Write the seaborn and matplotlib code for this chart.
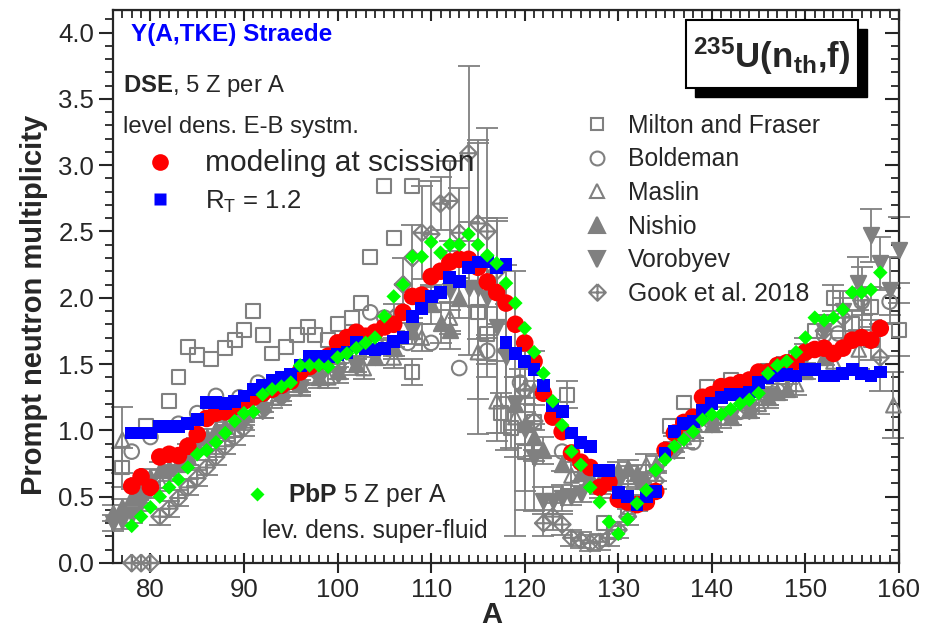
import numpy as np
import pandas as pd
import matplotlib
matplotlib.use("Agg")
import matplotlib.pyplot as plt
import seaborn as sns
from matplotlib.lines import Line2D
from matplotlib.patches import Rectangle
from matplotlib.path import Path
from matplotlib.ticker import MultipleLocator, FormatStrFormatter

# ---------------- data ----------------
red_A = [78, 79, 80, 81, 82, 83, 84, 85, 86, 87, 88, 89, 90, 91, 92, 93, 94, 95, 96, 97, 98, 99,
         100, 101, 102, 103, 104, 105, 106, 107, 108, 109, 110, 111, 112, 113, 114, 115, 116, 117,
         118, 119, 120, 121, 122, 123, 124, 125, 126, 127, 128, 129, 130, 131, 132, 133, 134, 135,
         136, 137, 138, 139, 140, 141, 142, 143, 144, 145, 146, 147, 148, 149, 150, 151, 152, 153,
         154, 155, 156, 157, 158]
red_nu = [0.58, 0.65, 0.57, 0.80, 0.82, 0.81, 0.88, 0.97, 1.09, 1.13, 1.14, 1.18, 1.22, 1.25, 1.28,
          1.31, 1.34, 1.37, 1.44, 1.48, 1.52, 1.56, 1.66, 1.70, 1.74, 1.71, 1.74, 1.78, 1.80, 1.89,
          2.01, 2.02, 2.16, 2.20, 2.27, 2.29, 2.29, 2.23, 2.12, 2.04, 1.96, 1.80, 1.66, 1.52, 1.28,
          1.10, 0.99, 0.83, 0.76, 0.72, 0.57, 0.61, 0.48, 0.46, 0.44, 0.46, 0.54, 0.85, 0.98, 1.06,
          1.10, 1.25, 1.27, 1.33, 1.34, 1.36, 1.38, 1.44, 1.44, 1.49, 1.51, 1.52, 1.59, 1.61, 1.62,
          1.58, 1.62, 1.68, 1.70, 1.68, 1.77]

blue_A = [78, 79, 80, 81, 82, 83, 84, 85, 86, 87, 88, 89, 90, 91, 92, 93, 94, 95, 96, 97, 98, 99,
          100, 101, 102, 103, 104, 105, 106, 107, 108, 109, 110, 111, 112, 113, 114, 115, 116, 117,
          118, 118, 119, 120, 121, 122, 123, 124, 125, 126, 127, 128, 129, 130, 131, 132, 133, 134,
          135, 136, 137, 138, 139, 140, 141, 142, 143, 144, 145, 146, 147, 148, 149, 150, 151, 152,
          153, 154, 155, 156, 157, 158]
blue_nu = [0.98, 0.98, 0.98, 1.03, 1.03, 1.03, 1.05, 1.08, 1.21, 1.21, 1.20, 1.22, 1.26, 1.31, 1.34,
           1.38, 1.40, 1.42, 1.49, 1.56, 1.56, 1.56, 1.57, 1.59, 1.66, 1.62, 1.61, 1.62, 1.67, 1.70,
           1.86, 1.92, 2.01, 2.04, 2.15, 2.12, 2.23, 2.27, 2.27, 2.23, 2.25, 1.66, 1.58, 1.52, 1.46,
           1.34, 1.19, 1.14, 0.98, 0.91, 0.88, 0.70, 0.70, 0.53, 0.50, 0.44, 0.50, 0.54, 0.83, 0.99,
           1.05, 1.07, 1.15, 1.20, 1.25, 1.27, 1.27, 1.29, 1.36, 1.40, 1.41, 1.42, 1.41, 1.46, 1.46,
           1.41, 1.41, 1.43, 1.46, 1.43, 1.41, 1.44]

green_A = [78, 79, 80, 81, 82, 83, 84, 85, 86, 87, 88, 89, 90, 91, 92, 93, 94, 95, 96, 97, 98, 99,
           100, 101, 102, 103, 104, 105, 106, 107, 108, 109, 110, 111, 112, 113, 114, 115, 116, 117,
           118, 119, 120, 121, 122, 123, 124, 125, 126, 127, 128, 129, 130, 131, 132, 133, 134, 135,
           136, 137, 138, 139, 140, 141, 142, 143, 144, 145, 146, 147, 148, 149, 150, 151, 152, 153,
           154, 155, 156, 157, 158]
green_nu = [0.28, 0.35, 0.42, 0.50, 0.57, 0.63, 0.72, 0.82, 0.85, 0.91, 0.98, 1.07, 1.13, 1.14, 1.27,
            1.31, 1.33, 1.36, 1.49, 1.49, 1.49, 1.48, 1.55, 1.58, 1.62, 1.66, 1.70, 1.86, 2.01, 2.10,
            2.31, 2.31, 2.42, 2.34, 2.40, 2.40, 2.48, 2.40, 2.32, 2.26, 2.11, 1.96, 1.77, 1.59, 1.43,
            1.22, 1.04, 0.84, 0.74, 0.57, 0.46, 0.31, 0.22, 0.33, 0.45, 0.55, 0.70, 0.78, 0.88, 0.93,
            0.99, 1.08, 1.12, 1.12, 1.16, 1.20, 1.23, 1.28, 1.43, 1.49, 1.52, 1.59, 1.70, 1.85, 1.83,
            1.85, 1.91, 2.04, 2.04, 2.06, 2.19]

milton_A = [77, 79.5, 82, 83, 84, 85, 86.5, 88, 89, 90, 91, 92, 93, 94.5, 95.7, 96.8, 97.6, 99, 100,
            101.5, 102.5, 103.5, 105, 106, 108, 108, 115, 116, 117.5, 118.5, 120, 121, 124.5, 125,
            128.5, 129.5, 131, 135.5, 137, 139.5, 142, 146, 149, 151, 153, 155, 157, 157, 160]
milton_nu = [0.72, 1.03, 1.22, 1.40, 1.63, 1.57, 1.54, 1.62, 1.68, 1.76, 1.90, 1.72, 1.58, 1.63, 1.72,
             1.78, 1.72, 1.68, 1.80, 1.85, 1.96, 2.31, 2.84, 2.45, 2.84, 1.44, 1.89, 1.73, 1.13, 1.02,
             0.84, 1.06, 1.27, 0.74, 0.30, 0.23, 0.42, 1.03, 1.21, 1.33, 1.38, 1.45, 1.55, 1.75, 2.00,
             1.80, 1.93, 1.68, 1.76]
milton_err = [0.15, 0.00, 0.00, 0.00, 0.00, 0.00, 0.00, 0.00, 0.00, 0.00, 0.00, 0.00, 0.00, 0.00, 0.00,
              0.00, 0.00, 0.00, 0.00, 0.00, 0.00, 0.00, 0.00, 0.00, 0.00, 0.10, 0.20, 0.20, 0.15, 0.15,
              0.30, 0.25, 0.10, 0.00, 0.00, 0.00, 0.00, 0.00, 0.00, 0.00, 0.00, 0.00, 0.00, 0.00, 0.10,
              0.10, 0.15, 0.15, 0.20]

bold_A = [78, 80, 83, 85, 87, 89.5, 91.5, 94, 96, 98, 100, 102, 103.5, 105, 107.5, 110, 113, 116,
          119.5, 124, 127, 138, 143, 147, 152, 153.5, 156, 159]
bold_nu = [0.84, 0.95, 1.05, 1.13, 1.26, 1.25, 1.36, 1.27, 1.45, 1.50, 1.60, 1.72, 1.89, 1.85, 1.66,
           1.66, 1.47, 1.60, 1.36, 0.84, 0.70, 0.91, 1.14, 1.30, 1.72, 1.73, 1.97, 1.97]
bold_err = [0.00, 0.00, 0.00, 0.00, 0.00, 0.00, 0.00, 0.00, 0.00, 0.00, 0.00, 0.00, 0.00, 0.00, 0.00,
            0.00, 0.00, 0.10, 0.10, 0.00, 0.00, 0.00, 0.00, 0.00, 0.00, 0.00, 0.10, 0.10]

maslin_A = [77, 79, 81, 84, 87, 90, 93, 96, 99, 102.8, 106, 109, 112, 115, 117, 119, 121, 125, 128,
            131, 133, 137, 141, 145, 149, 153, 155.7, 159.4]
maslin_nu = [0.93, 0.53, 0.62, 0.82, 1.00, 1.12, 1.25, 1.35, 1.40, 1.47, 1.55, 1.70, 1.85, 1.59, 1.22,
             1.10, 1.30, 0.66, 0.60, 0.65, 0.74, 0.95, 1.10, 1.20, 1.35, 1.52, 1.61, 1.19]
maslin_err = [0.25, 0.08, 0.08, 0.08, 0.08, 0.08, 0.08, 0.08, 0.08, 0.08, 0.08, 0.10, 0.12, 0.35, 0.30,
              0.30, 0.30, 0.10, 0.08, 0.08, 0.08, 0.08, 0.08, 0.08, 0.08, 0.10, 0.15, 0.25]

nishio_A = [76, 77, 78, 79, 80, 81, 82, 83, 84, 85, 86, 87, 88, 89, 90, 92, 94, 96, 98, 100, 102, 104,
            106, 108, 110, 111, 112, 113, 119, 120, 121, 122, 124, 126, 127, 128, 129, 130, 131, 132,
            133, 134, 136, 138, 140, 142, 144, 146, 147, 148, 150, 152]
nishio_nu = [0.38, 0.42, 0.50, 0.58, 0.65, 0.70, 0.72, 0.75, 0.80, 0.88, 0.95, 1.00, 1.03, 1.08, 1.12,
             1.20, 1.28, 1.35, 1.40, 1.45, 1.50, 1.55, 1.62, 1.75, 1.95, 1.81, 1.76, 2.00, 1.20, 1.05,
             0.95, 0.85, 0.75, 0.68, 0.65, 0.62, 0.65, 0.70, 0.72, 0.68, 0.62, 0.75, 0.90, 1.00, 1.05,
             1.10, 1.15, 1.25, 1.29, 1.31, 1.45, 1.55]
nishio_err = [0.06, 0.06, 0.06, 0.06, 0.06, 0.06, 0.06, 0.06, 0.06, 0.06, 0.06, 0.06, 0.06, 0.06, 0.06,
              0.06, 0.06, 0.06, 0.06, 0.06, 0.06, 0.06, 0.08, 0.10, 0.15, 0.15, 0.15, 0.15, 0.20, 0.15,
              0.10, 0.10, 0.06, 0.06, 0.06, 0.06, 0.06, 0.06, 0.06, 0.06, 0.06, 0.06, 0.06, 0.06, 0.06,
              0.06, 0.06, 0.06, 0.06, 0.06, 0.06, 0.06]

voro_A = [76, 77, 78, 79, 80, 82, 84, 86, 88, 90, 92, 94, 96, 98, 100, 102, 104, 106, 108, 110, 112,
          114, 115, 116, 117, 118, 119, 120, 121, 122, 123, 124, 125, 126, 128, 130, 132, 134, 136,
          138, 140, 142, 144, 146, 148, 150, 152, 154, 155.6, 157, 158, 159, 160]
voro_nu = [0.30, 0.32, 0.36, 0.45, 0.55, 0.68, 0.78, 0.88, 0.98, 1.06, 1.15, 1.25, 1.32, 1.38, 1.42,
           1.48, 1.55, 1.62, 1.75, 1.95, 2.05, 2.07, 2.07, 2.00, 1.78, 1.55, 1.20, 1.00, 0.79, 0.47,
           0.47, 0.49, 0.50, 0.52, 0.55, 0.60, 0.62, 0.68, 0.85, 0.98, 1.05, 1.10, 1.15, 1.25, 1.40,
           1.55, 1.75, 1.90, 2.11, 2.47, 2.26, 2.06, 2.36]
voro_err = [0.06, 0.06, 0.06, 0.06, 0.06, 0.06, 0.06, 0.06, 0.06, 0.06, 0.06, 0.06, 0.06, 0.06, 0.06,
            0.06, 0.06, 0.06, 0.06, 0.06, 0.30, 0.50, 1.10, 0.60, 0.80, 0.70, 1.00, 0.60, 0.40, 0.10,
            0.10, 0.10, 0.06, 0.06, 0.06, 0.06, 0.06, 0.06, 0.06, 0.06, 0.06, 0.06, 0.06, 0.06, 0.10,
            0.10, 0.12, 0.15, 0.20, 0.20, 0.20, 0.25, 0.25]

gook_A = [78, 79, 80, 81, 82, 83, 84, 85, 86, 87, 88, 89, 90, 92, 94, 96, 98, 100, 102, 104, 106,
          107, 108, 109, 110, 111, 112, 113, 114, 115, 116, 117, 118, 120, 121, 122, 123, 124, 125,
          126, 127, 128, 129, 130, 131, 132, 134, 136, 138, 140, 142, 144, 146, 148, 150, 152, 154,
          156, 158]
gook_nu = [0.00, 0.00, 0.00, 0.35, 0.41, 0.49, 0.57, 0.64, 0.72, 0.80, 0.88, 0.95, 1.02, 1.15, 1.25,
           1.35, 1.42, 1.50, 1.60, 1.68, 1.85, 2.10, 2.30, 2.49, 2.48, 2.71, 2.73, 2.49, 3.09, 2.56,
           2.50, 2.20, 1.60, 1.30, 1.07, 0.30, 0.35, 0.29, 0.19, 0.17, 0.15, 0.16, 0.19, 0.25, 0.35,
           0.45, 0.62, 0.85, 1.00, 1.05, 1.10, 1.15, 1.25, 1.45, 1.60, 1.75, 1.85, 1.98, 1.55]
gook_err = [0.00, 0.00, 0.00, 0.06, 0.06, 0.06, 0.06, 0.06, 0.06, 0.06, 0.06, 0.06, 0.06, 0.06, 0.06,
            0.06, 0.06, 0.06, 0.06, 0.06, 0.10, 0.20, 0.25, 0.35, 0.40, 0.20, 0.30, 0.34, 0.66, 0.63,
            0.78, 0.40, 0.35, 0.30, 0.30, 0.10, 0.10, 0.08, 0.06, 0.06, 0.06, 0.06, 0.06, 0.06, 0.06,
            0.06, 0.06, 0.06, 0.06, 0.06, 0.06, 0.06, 0.08, 0.10, 0.10, 0.12, 0.15, 0.25, 0.25]

x_ticks = [80, 90, 100, 110, 120, 130, 140, 150, 160]
y_ticks = [0.0, 0.5, 1.0, 1.5, 2.0, 2.5, 3.0, 3.5, 4.0]

# ---------------- style ----------------
sns.set_style("ticks")
plt.rcParams["font.family"] = ["Liberation Sans", "DejaVu Sans"]
plt.rcParams["mathtext.fontset"] = "custom"
plt.rcParams["mathtext.rm"] = "Liberation Sans"
plt.rcParams["mathtext.bf"] = "Liberation Sans:bold"
plt.rcParams["mathtext.it"] = "Liberation Sans:italic"

GREY = "#808080"
RED = "#ff0000"
BLUE = "#0000ff"
GREEN = "#00ff00"

gook_marker = Path([(0, 1), (1, 0), (0, -1), (-1, 0), (0, 1), (0, 1), (0, -1), (-1, 0), (1, 0)],
                   [Path.MOVETO, Path.LINETO, Path.LINETO, Path.LINETO, Path.LINETO,
                    Path.MOVETO, Path.LINETO, Path.MOVETO, Path.LINETO])

fig = plt.figure(figsize=(9.42, 6.28), dpi=100)
ax = fig.add_axes([113 / 942, 65 / 628, 786 / 942, 553 / 628])


def grey_series(A, nu, err, marker, filled, size):
    A = np.asarray(A, float)
    nu = np.asarray(nu, float)
    err = np.asarray(err, float)
    has_err = err > 0
    ax.errorbar(A[has_err], nu[has_err], yerr=err[has_err], fmt="none", ecolor=GREY,
                elinewidth=1.3, capsize=8, capthick=1.3, zorder=2, clip_on=False)
    df = pd.DataFrame({"A": A, "nu": nu})
    sns.scatterplot(data=df, x="A", y="nu", ax=ax, marker=marker, s=size,
                    color=GREY if filled else "none", edgecolor=GREY, linewidth=1.5,
                    zorder=3, legend=False, clip_on=False)


grey_series(milton_A, milton_nu, milton_err, "s", False, 100)
grey_series(bold_A, bold_nu, bold_err, "o", False, 110)
grey_series(maslin_A, maslin_nu, maslin_err, "^", False, 110)
grey_series(nishio_A, nishio_nu, nishio_err, "^", True, 120)
grey_series(voro_A, voro_nu, voro_err, "v", True, 120)
grey_series(gook_A, gook_nu, gook_err, gook_marker, False, 150)

sns.scatterplot(x=red_A, y=red_nu, ax=ax, marker="o", s=160, color=RED, edgecolor="none",
                zorder=4, legend=False)
sns.scatterplot(x=blue_A, y=blue_nu, ax=ax, marker="s", s=85, color=BLUE, edgecolor="none",
                zorder=5, legend=False)
sns.scatterplot(x=green_A, y=green_nu, ax=ax, marker="D", s=55, color=GREEN, edgecolor="none",
                zorder=6, legend=False)

# ---------------- axes ----------------
ax.set_xlim(76, 160)
ax.set_ylim(0, 4.17)
ax.set_xticks(x_ticks)
ax.set_yticks(y_ticks)
ax.xaxis.set_minor_locator(MultipleLocator(1))
ax.yaxis.set_minor_locator(MultipleLocator(0.1))
ax.yaxis.set_major_formatter(FormatStrFormatter("%.1f"))
ax.tick_params(axis="x", which="major", direction="inout", length=14, width=1.5, labelsize=18.5,
               pad=4, top=False)
ax.tick_params(axis="x", which="minor", direction="in", length=6, width=1.3, top=False)
ax.tick_params(axis="y", which="major", direction="out", length=10, width=1.5, labelsize=18.5,
               right=False)
ax.tick_params(axis="y", which="minor", direction="out", length=6, width=1.3, right=False)
for sp in ax.spines.values():
    sp.set_linewidth(1.6)
    sp.set_visible(True)

secx = ax.secondary_xaxis("top")
secx.set_xticks(x_ticks)
secx.xaxis.set_minor_locator(MultipleLocator(1))
secx.tick_params(axis="x", which="major", direction="in", length=8, width=1.5,
                 labeltop=False, labelbottom=False)
secx.tick_params(axis="x", which="minor", direction="in", length=6, width=1.3)
secy = ax.secondary_yaxis("right")
secy.set_yticks(y_ticks)
secy.yaxis.set_minor_locator(MultipleLocator(0.1))
secy.tick_params(axis="y", which="major", direction="in", length=10, width=1.5,
                 labelright=False, labelleft=False)
secy.tick_params(axis="y", which="minor", direction="in", length=6, width=1.3)

ax.set_xlabel("A", fontsize=21, fontweight="bold")
ax.set_ylabel("Prompt neutron multiplicity", fontsize=21, fontweight="bold")
ax.xaxis.set_label_coords(0.482, -0.068)
ax.yaxis.set_label_coords(-0.083, 0.4665)

# ---------------- annotations / legends ----------------
ax.text(0.023, 0.955, "Y(A,TKE) Straede", transform=ax.transAxes, fontsize=17.5,
        fontweight="bold", color=BLUE, va="center", ha="left")
ax.text(0.0127, 0.8626, r"$\mathbf{DSE}$, 5 Z per A", transform=ax.transAxes, fontsize=17.2,
        va="center", ha="left")
ax.text(0.0127, 0.789, "level dens. E-B systm.", transform=ax.transAxes, fontsize=17.2,
        va="center", ha="left")

h_model = [Line2D([], [], ls="none", marker="o", ms=12, mfc=RED, mec="none"),
           Line2D([], [], ls="none", marker="s", ms=9, mfc=BLUE, mec="none")]
leg1 = ax.legend(h_model, ["modeling at scission", r"R$_\mathrm{T}$ = 1.2"], loc="upper left",
                 bbox_to_anchor=(0.037, 0.748), frameon=False, fontsize=20, borderpad=0,
                 borderaxespad=0, handlelength=1.3, handletextpad=0.98, labelspacing=0.42)
leg1.get_texts()[0].set_fontsize(21.5)
leg1.get_texts()[1].set_fontsize(18.5)
ax.add_artist(leg1)

h_exp = [Line2D([], [], ls="none", marker="s", ms=9, mfc="none", mec=GREY, mew=1.5),
         Line2D([], [], ls="none", marker="o", ms=10, mfc="none", mec=GREY, mew=1.5),
         Line2D([], [], ls="none", marker="^", ms=10, mfc="none", mec=GREY, mew=1.5),
         Line2D([], [], ls="none", marker="^", ms=11, mfc=GREY, mec=GREY, mew=1.5),
         Line2D([], [], ls="none", marker="v", ms=11, mfc=GREY, mec=GREY, mew=1.5),
         Line2D([], [], ls="none", marker=gook_marker, ms=12, mfc="none", mec=GREY, mew=1.5)]
leg2 = ax.legend(h_exp, ["Milton and Fraser", "Boldeman", "Maslin", "Nishio", "Vorobyev",
                         "Gook et al. 2018"], loc="upper left", bbox_to_anchor=(0.60, 0.8125),
                 frameon=False, fontsize=17.8, borderpad=0, borderaxespad=0, handlelength=1.0,
                 handletextpad=0.75, labelspacing=0.39)
ax.add_artist(leg2)

h_pbp = [Line2D([], [], ls="none", marker="D", ms=7, mfc=GREEN, mec="none")]
leg3 = ax.legend(h_pbp, [r"$\mathbf{PbP}$ 5 Z per A"], loc="upper left",
                 bbox_to_anchor=(0.168, 0.148), frameon=False, fontsize=17.8, borderpad=0,
                 borderaxespad=0, handlelength=1.0, handletextpad=0.75)
ax.text(0.19, 0.058, "lev. dens. super-fluid", transform=ax.transAxes, fontsize=17.8,
        va="center", ha="left")

# reaction label box with shadow
fig.patches.append(Rectangle((695 / 942, 1 - 97 / 628), 172 / 942, 68 / 628,
                             transform=fig.transFigure, facecolor="black", edgecolor="black",
                             zorder=10))
fig.patches.append(Rectangle((686 / 942, 1 - 88 / 628), 172 / 942, 68 / 628,
                             transform=fig.transFigure, facecolor="white", edgecolor="black",
                             linewidth=1.5, zorder=11))
fig.text(772 / 942, 1 - 56 / 628, r"$\mathbf{{}^{235}U(n_{th}{,}f)}$", fontsize=25,
         ha="center", va="center", zorder=12)

fig.savefig("out.png", dpi=100)
